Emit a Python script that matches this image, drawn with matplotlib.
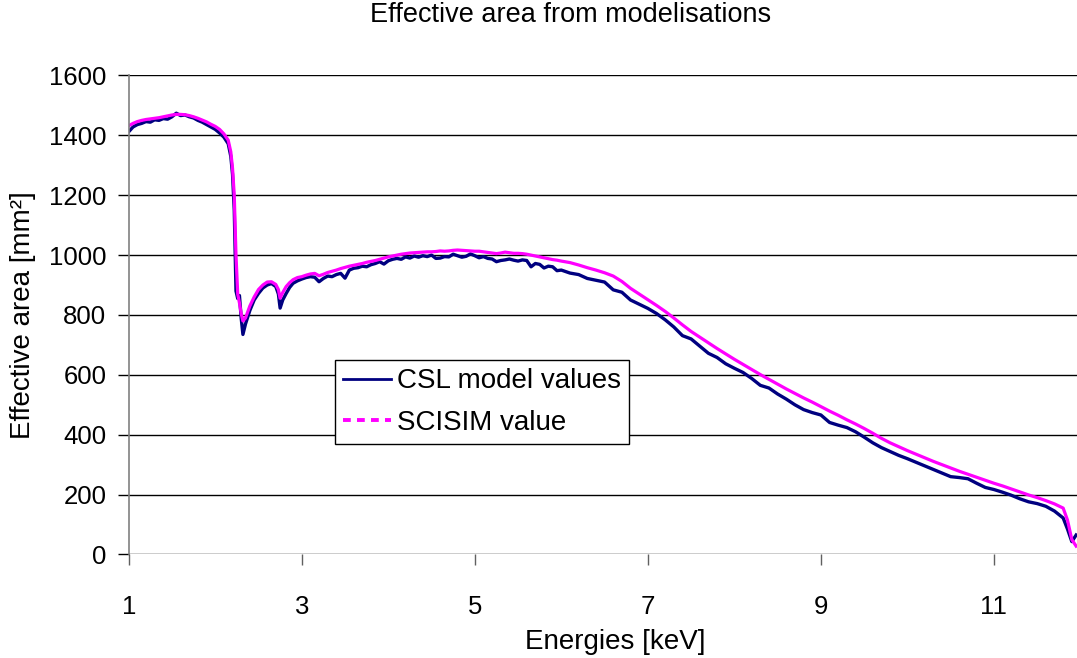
import matplotlib.pyplot as plt
from matplotlib.lines import Line2D

plt.rcParams['font.family'] = ['Liberation Sans', 'DejaVu Sans']

energies = [1.00, 1.05, 1.10, 1.15, 1.20, 1.25, 1.30, 1.35, 1.40, 1.45, 1.50, 1.55,
            1.60, 1.65, 1.70, 1.75, 1.80, 1.85, 1.90, 1.95, 2.00, 2.05, 2.10, 2.15,
            2.18, 2.20, 2.22, 2.24, 2.26, 2.28, 2.30, 2.32, 2.35, 2.40, 2.45, 2.50,
            2.55, 2.60, 2.65, 2.70, 2.73, 2.75, 2.78, 2.82, 2.86, 2.90, 2.95,
            3.00, 3.05, 3.10, 3.15, 3.20, 3.25, 3.30, 3.35, 3.40, 3.45,
            3.50, 3.55, 3.60, 3.65, 3.70, 3.75, 3.80, 3.85, 3.90, 3.95,
            4.00, 4.05, 4.10, 4.15, 4.20, 4.25, 4.30, 4.35, 4.40, 4.45,
            4.50, 4.55, 4.60, 4.65, 4.70, 4.75, 4.80, 4.85, 4.90, 4.95,
            5.00, 5.05, 5.10, 5.15, 5.20, 5.25, 5.30, 5.35, 5.40, 5.45,
            5.50, 5.55, 5.60, 5.65, 5.70, 5.75, 5.80, 5.85, 5.90, 5.95,
            6.0, 6.1, 6.2, 6.3, 6.4, 6.5, 6.6, 6.7, 6.8, 6.9,
            7.0, 7.1, 7.2, 7.3, 7.4, 7.5, 7.6, 7.7, 7.8, 7.9,
            8.0, 8.1, 8.2, 8.3, 8.4, 8.5, 8.6, 8.7, 8.8, 8.9,
            9.0, 9.1, 9.2, 9.3, 9.4, 9.5, 9.6, 9.7, 9.8, 9.9,
            10.0, 10.1, 10.2, 10.3, 10.4, 10.5, 10.6, 10.7, 10.8, 10.9,
            11.0, 11.1, 11.2, 11.3, 11.4, 11.5, 11.6, 11.7, 11.8,
            11.85, 11.90, 11.95]

csl_values = [1412, 1428, 1436, 1440, 1446, 1444, 1452, 1450, 1456, 1454, 1462, 1474,
              1466, 1468, 1462, 1458, 1450, 1444, 1436, 1428, 1420, 1408, 1394, 1372,
              1330, 1270, 1150, 880, 855, 865, 790, 735, 770, 815, 850, 872,
              890, 900, 905, 895, 870, 823, 850, 872, 892, 906, 914,
              920, 925, 928, 926, 911, 922, 930, 928, 935, 939,
              923, 950, 956, 958, 963, 961, 968, 972, 978, 970,
              981, 986, 989, 986, 994, 990, 997, 993, 998, 995,
              1000, 989, 990, 995, 994, 1003, 998, 993, 996, 1004,
              998, 991, 995, 989, 987, 978, 982, 984, 987, 983,
              980, 984, 982, 961, 972, 969, 957, 963, 961, 948,
              950, 940, 935, 922, 916, 910, 884, 876, 850, 836,
              822, 805, 784, 760, 731, 720, 696, 672, 658, 637,
              622, 608, 588, 565, 556, 536, 519, 500, 484, 474,
              466, 441, 432, 424, 410, 392, 373, 357, 344, 331,
              320, 308, 296, 284, 272, 260, 257, 253, 238, 224,
              217, 208, 198, 186, 176, 170, 161, 145, 122,
              85, 43, 65]

scisim_values = [1432, 1440, 1446, 1450, 1453, 1455, 1457, 1459, 1462, 1465, 1468, 1470,
                 1470, 1469, 1466, 1462, 1457, 1451, 1445, 1437, 1430, 1420, 1405, 1384,
                 1345, 1290, 1200, 1000, 870, 840, 805, 780, 790, 830, 860, 885,
                 900, 910, 911, 902, 885, 856, 875, 895, 908, 918, 925,
                 928, 933, 937, 939, 931, 936, 942, 946, 950, 955,
                 959, 963, 966, 969, 972, 976, 979, 982, 986, 990,
                 994, 997, 1000, 1003, 1005, 1007, 1008, 1009, 1010, 1011,
                 1011, 1012, 1014, 1013, 1014, 1016, 1017, 1016, 1015, 1014,
                 1013, 1013, 1011, 1009, 1007, 1005, 1007, 1010, 1008, 1006,
                 1006, 1005, 1003, 1000, 997, 994, 991, 988, 985, 983,
                 980, 975, 967, 958, 950, 941, 930, 912, 889, 870,
                 851, 832, 812, 790, 767, 745, 726, 707, 688, 670,
                 652, 635, 618, 601, 585, 569, 553, 538, 523, 509,
                 494, 479, 465, 450, 436, 421, 405, 388, 373, 360,
                 347, 335, 323, 311, 300, 289, 278, 268, 258, 248,
                 238, 229, 219, 209, 199, 190, 180, 169, 155,
                 115, 50, 28]

x_ticks = [1, 3, 5, 7, 9, 11]
y_ticks = [0, 200, 400, 600, 800, 1000, 1200, 1400, 1600]

fig = plt.figure(figsize=(10.77, 6.58), dpi=100)
ax = fig.add_axes([0.1195, 0.1573, 0.8805, 0.728])

ax.plot(energies, csl_values, color='#000080', linewidth=2.4)
ax.plot(energies, scisim_values, color='#FF00FF', linewidth=2.3)

ax.set_xlim(1, 11.96)
ax.set_ylim(0, 1600)
ax.set_xticks(x_ticks)
ax.set_yticks(y_ticks)
ax.yaxis.grid(True, color='black', linewidth=1.0)
ax.set_axisbelow(True)

for side in ['top', 'right', 'bottom']:
    ax.spines[side].set_visible(False)
ax.spines['left'].set_color('#808080')
ax.spines['left'].set_linewidth(1.2)

ax.tick_params(axis='y', direction='out', length=8, width=1, color='black',
               labelsize=18.5, pad=8)
ax.tick_params(axis='x', direction='out', length=8, width=1, color='#606060',
               labelsize=18.5, pad=21)

ax.set_xlabel('Energies [keV]', fontsize=20)
ax.xaxis.set_label_coords(0.513, -0.155)
ax.set_ylabel('Effective area [mm²]', fontsize=20)
ax.yaxis.set_label_coords(-0.098, 0.5)

fig.text(0.530, 1 - 22 / 658, 'Effective area from modelisations',
         fontsize=19.5, ha='center', va='baseline')

handles = [Line2D([], [], color='#000080', linewidth=2.0),
           Line2D([], [], color='#FF00FF', linewidth=2.8, linestyle=(0, (2.0, 1.6)))]
leg = ax.legend(handles, ['CSL model values', 'SCISIM value'],
                loc='upper left', bbox_to_anchor=(0.2175, 0.406), borderaxespad=0,
                fontsize=20, frameon=True, fancybox=False, framealpha=1,
                handlelength=1.73, handletextpad=0.2, borderpad=0.3,
                labelspacing=0.55)
leg.get_frame().set_edgecolor('black')
leg.get_frame().set_linewidth(1.0)

fig.savefig('out.png', dpi=100)
